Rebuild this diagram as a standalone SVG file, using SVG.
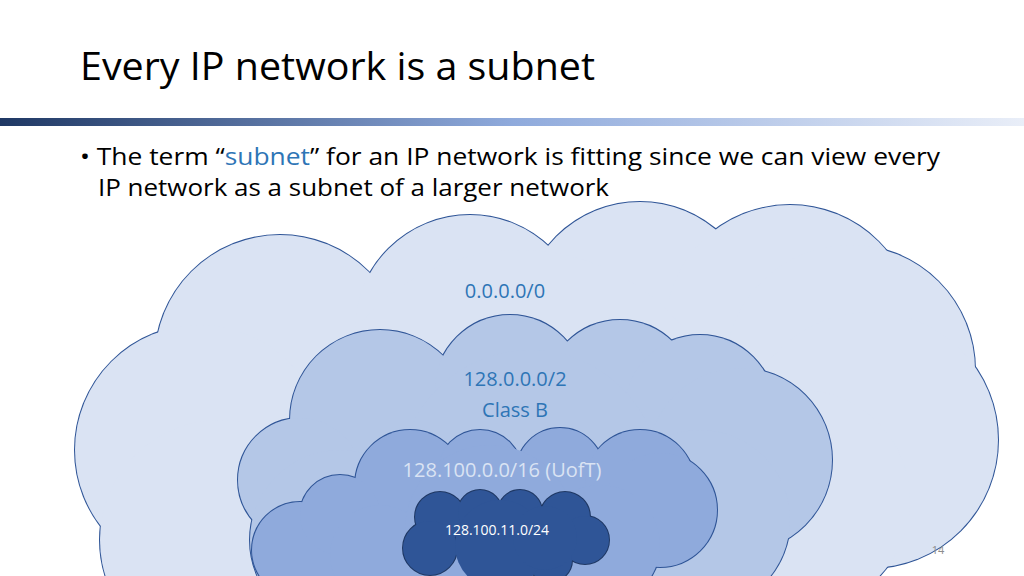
<svg xmlns="http://www.w3.org/2000/svg" width="1024" height="576" viewBox="0 0 1024 576">
<defs>
<linearGradient id="bar" x1="0" x2="1" y1="0" y2="0">
<stop offset="0" stop-color="#1f3864"/><stop offset="0.5" stop-color="#8faadc"/><stop offset="1" stop-color="#e9eef8"/>
</linearGradient>
</defs>
<style>
text{font-family:"Open Sans","Liberation Sans",sans-serif}
.c1 circle{fill:#dae3f3}
.c2 circle{fill:#b4c7e7}
.c3 circle{fill:#8faadc}
.c4 circle{fill:#2f5597}
.s circle{stroke:#2f5597;stroke-width:2}
.s4 circle{stroke:#1f3864;stroke-width:2}
</style>
<rect width="1024" height="576" fill="#ffffff"/>
<text x="80" y="80" font-size="38" fill="#000" textLength="515" lengthAdjust="spacingAndGlyphs">Every IP network is a subnet</text>
<rect x="0" y="118" width="1024" height="8" fill="url(#bar)"/>
<text x="80" y="165" font-size="23" fill="#000" textLength="860" lengthAdjust="spacingAndGlyphs">• The term “<tspan fill="#2e75b6">subnet</tspan>” for an IP network is fitting since we can view every</text>
<text x="98" y="196" font-size="23" fill="#000" textLength="511" lengthAdjust="spacingAndGlyphs">IP network as a subnet of a larger network</text>
<g id="cloud1">
<g class="c1 s">
<circle cx="280" cy="360" r="125"/><circle cx="470" cy="330" r="115"/><circle cx="640" cy="320" r="118"/><circle cx="790" cy="330" r="125"/><circle cx="850" cy="370" r="125"/><circle cx="870" cy="440" r="128"/><circle cx="200" cy="450" r="125"/><circle cx="220" cy="540" r="120"/><circle cx="800" cy="500" r="110"/>
</g>
<g class="c1">
<circle cx="280" cy="360" r="125"/><circle cx="470" cy="330" r="115"/><circle cx="640" cy="320" r="118"/><circle cx="790" cy="330" r="125"/><circle cx="850" cy="370" r="125"/><circle cx="870" cy="440" r="128"/><circle cx="200" cy="450" r="125"/><circle cx="220" cy="540" r="120"/><circle cx="800" cy="500" r="110"/><circle cx="520" cy="460" r="210"/>
</g>
<text x="505" y="298" font-size="20" fill="#2e75b6" text-anchor="middle">0.0.0.0/0</text>
</g>
<g id="cloud2">
<g class="c2 s">
<circle cx="380" cy="420" r="90"/><circle cx="510" cy="390" r="75"/><circle cx="620" cy="395" r="75"/><circle cx="700" cy="410" r="75"/><circle cx="740" cy="460" r="92"/><circle cx="300" cy="480" r="62"/><circle cx="340" cy="540" r="90"/><circle cx="700" cy="520" r="90"/>
</g>
<g class="c2">
<circle cx="380" cy="420" r="90"/><circle cx="510" cy="390" r="75"/><circle cx="620" cy="395" r="75"/><circle cx="700" cy="410" r="75"/><circle cx="740" cy="460" r="92"/><circle cx="300" cy="480" r="62"/><circle cx="340" cy="540" r="90"/><circle cx="700" cy="520" r="90"/><circle cx="530" cy="480" r="130"/>
</g>
<text x="515" y="386" font-size="20" fill="#2e75b6" text-anchor="middle">128.0.0.0/2</text>
<text x="515" y="417" font-size="20" fill="#2e75b6" text-anchor="middle">Class B</text>
</g>
<g id="cloud3">
<g class="c3 s">
<circle cx="410" cy="485" r="55"/><circle cx="480" cy="472" r="42"/><circle cx="560" cy="472" r="44"/><circle cx="640" cy="485" r="55"/><circle cx="660" cy="510" r="57"/><circle cx="300" cy="550" r="48"/><circle cx="340" cy="515" r="40"/><circle cx="600" cy="545" r="60"/><circle cx="380" cy="555" r="50"/>
</g>
<g class="c3">
<circle cx="410" cy="485" r="55"/><circle cx="480" cy="472" r="42"/><circle cx="560" cy="472" r="44"/><circle cx="640" cy="485" r="55"/><circle cx="660" cy="510" r="57"/><circle cx="300" cy="550" r="48"/><circle cx="340" cy="515" r="40"/><circle cx="600" cy="545" r="60"/><circle cx="380" cy="555" r="50"/><circle cx="490" cy="530" r="85"/>
</g>
<text x="502" y="477" font-size="20" fill="#dae3f3" text-anchor="middle">128.100.0.0/16 (UofT)</text>
</g>
<g id="cloud4">
<g class="c4 s4">
<circle cx="440" cy="517" r="25"/><circle cx="480" cy="512" r="22"/><circle cx="520" cy="512" r="22"/><circle cx="565" cy="517" r="25"/><circle cx="585" cy="540" r="24"/><circle cx="430" cy="548" r="27"/><circle cx="550" cy="560" r="22"/>
</g>
<g class="c4">
<circle cx="440" cy="517" r="25"/><circle cx="480" cy="512" r="22"/><circle cx="520" cy="512" r="22"/><circle cx="565" cy="517" r="25"/><circle cx="585" cy="540" r="24"/><circle cx="430" cy="548" r="27"/><circle cx="550" cy="560" r="22"/><circle cx="500" cy="545" r="45"/><circle cx="545" cy="538" r="32"/>
</g>
<text x="497" y="535" font-size="14" fill="#ffffff" text-anchor="middle">128.100.11.0/24</text>
</g>
<text x="938" y="554" font-size="11" fill="#8c8c8c" text-anchor="middle">14</text>
</svg>
